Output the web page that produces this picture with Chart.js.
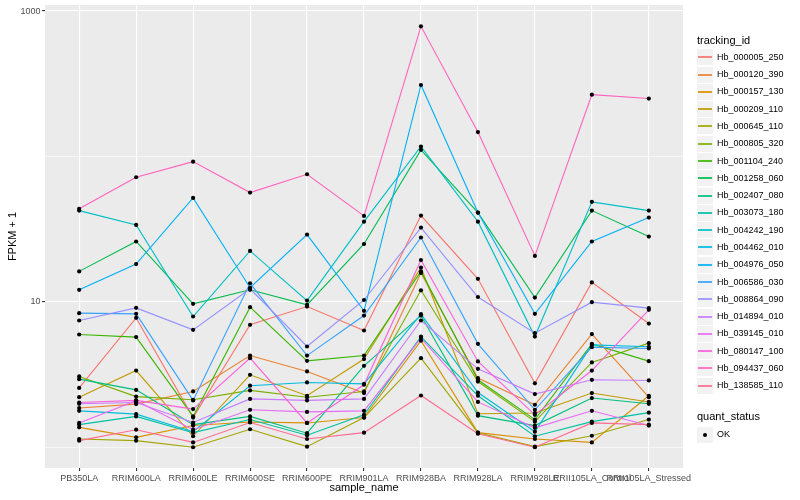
<!DOCTYPE html>
<html lang="en">
<head>
<meta charset="UTF-8">
<title>FPKM + 1 by sample</title>
<script src="https://cdn.jsdelivr.net/npm/chart.js"></script>
<style>
  body { margin: 0; background: #fff; font-family: 'Liberation Sans', Arial, sans-serif; }
  #wrap { position: relative; width: 800px; height: 500px; }
  #legend { position: absolute; left: 0; top: 0; width: 800px; height: 500px; pointer-events: none; }
  .lg { position: absolute; white-space: nowrap; color: #000; }
  .key { position: absolute; background: #F2F2F2; }
</style>
</head>
<body>
<div id="wrap">
  <canvas id="chart" width="800" height="500"></canvas>
  <div id="legend"></div>
</div>
<script>
// samples on the x axis
const categories = ['PB350LA', 'RRIM600LA', 'RRIM600LE', 'RRIM600SE', 'RRIM600PE', 'RRIM901LA',
  'RRIM928BA', 'RRIM928LA', 'RRIM928LE', 'RRII105LA_Control', 'RRII105LA_Stressed'];

const trackingIds = ['Hb_000005_250', 'Hb_000120_390', 'Hb_000157_130', 'Hb_000209_110', 'Hb_000645_110',
  'Hb_000805_320', 'Hb_001104_240', 'Hb_001258_060', 'Hb_002407_080', 'Hb_003073_180',
  'Hb_004242_190', 'Hb_004462_010', 'Hb_004976_050', 'Hb_006586_030', 'Hb_008864_090',
  'Hb_014894_010', 'Hb_039145_010', 'Hb_080147_100', 'Hb_094437_060', 'Hb_138585_110'];

// FPKM + 1, one value per sample
const hb000005_250 = [2.56, 7.76, 1.60, 6.95, 9.28, 6.35, 39.2, 14.4, 2.75, 13.6, 7.09];
const hb000120_390 = [1.86, 1.98, 2.42, 4.27, 3.32, 2.36, 15.8, 2.99, 1.96, 6.00, 2.21];
const hb000157_130 = [1.37, 1.17, 1.41, 1.49, 1.47, 1.60, 5.40, 1.26, 1.14, 1.08, 2.26];
const hb000209_110 = [2.21, 3.37, 1.19, 3.15, 2.26, 4.04, 17.2, 1.70, 1.72, 2.36, 2.05];
const hb000645_110 = [1.14, 1.11, 1.00, 1.33, 1.01, 1.60, 4.10, 1.26, 1.01, 1.20, 1.55];
const hb000805_320 = [3.07, 2.23, 2.12, 2.46, 2.21, 2.42, 12.0, 2.83, 1.50, 3.83, 5.20];
const hb001104_240 = [5.96, 5.72, 1.63, 9.19, 3.93, 4.27, 16.2, 2.91, 1.55, 5.14, 3.91];
const hb001258_060 = [16.2, 26.0, 9.69, 12.1, 9.54, 25.0, 111, 41.1, 10.7, 42.4, 28.1];
const hb002407_080 = [2.94, 2.48, 1.43, 1.63, 1.25, 3.63, 8.05, 1.65, 1.41, 2.18, 1.99];
const hb003073_180 = [1.43, 1.63, 1.26, 1.55, 1.21, 1.67, 5.77, 2.26, 1.19, 1.50, 1.73];
const hb004242_190 = [42.4, 33.8, 7.93, 22.4, 10.2, 35.6, 117, 35.6, 5.77, 48.7, 42.4];
const hb004462_010 = [1.78, 1.69, 1.28, 2.65, 2.79, 2.73, 8.23, 2.38, 1.28, 5.06, 4.91];
const hb004976_050 = [12.1, 18.2, 51.8, 12.5, 29.0, 8.67, 310, 41.1, 8.27, 26.0, 38.0];
const hb006586_030 = [8.36, 8.27, 2.10, 13.4, 4.27, 8.05, 27.7, 5.14, 1.81, 4.88, 4.78];
const hb008864_090 = [7.44, 9.09, 6.42, 12.3, 4.93, 10.3, 32.4, 10.8, 6.09, 9.95, 9.05];
const hb014894_010 = [1.99, 2.03, 1.48, 2.15, 2.10, 2.15, 7.44, 3.46, 2.32, 2.91, 2.88];
const hb039145_010 = [1.47, 2.09, 1.32, 1.81, 1.75, 1.78, 5.63, 2.05, 1.36, 1.78, 1.41];
const hb080147_100 = [2.03, 2.10, 1.83, 4.10, 1.47, 2.69, 19.4, 3.89, 1.67, 3.37, 8.81];
const hb094437_060 = [43.6, 71.9, 92.1, 56.4, 75.4, 39.0, 785, 147, 20.7, 266, 250];
const hb138585_110 = [1.11, 1.32, 1.08, 1.48, 1.14, 1.26, 2.27, 1.24, 1.00, 1.47, 1.43];

const seriesValues = [hb000005_250, hb000120_390, hb000157_130, hb000209_110, hb000645_110,
  hb000805_320, hb001104_240, hb001258_060, hb002407_080, hb003073_180,
  hb004242_190, hb004462_010, hb004976_050, hb006586_030, hb008864_090,
  hb014894_010, hb039145_010, hb080147_100, hb094437_060, hb138585_110];

const statusLevels = ['OK'];

// log axis: grid at every decade, labels on two of them
const yTickValues = [1, 10, 100, 1000];
const yTickLabels = [10, 1000];

// ggplot default hue palette for 20 levels
const lineColors = ['#F8766D', '#EA8331', '#D89000', '#C09B00', '#A3A500', '#7CAE00', '#39B600',
  '#00BB4E', '#00BF7D', '#00C1A3', '#00BFC4', '#00BAE0', '#00B0F6', '#35A2FF', '#9590FF',
  '#C77CFF', '#E76BF3', '#FA62DB', '#FF62BC', '#FF6C91'];

const FONT = "'Liberation Sans', Arial, sans-serif";
Chart.defaults.font.family = FONT;

const panelBackground = {
  id: 'panelBackground',
  beforeDraw(chart) {
    const { ctx, chartArea: a } = chart;
    ctx.save();
    ctx.fillStyle = '#EBEBEB';
    ctx.fillRect(a.left, a.top, a.right - a.left, a.bottom - a.top);
    ctx.restore();
  }
};

const datasets = seriesValues.map((vals, i) => ({
  label: trackingIds[i],
  data: vals.map((v, j) => ({ x: j, y: v })),
  borderColor: lineColors[i],
  borderWidth: 1.1,
  pointRadius: 0,
  fill: false,
  tension: 0,
  order: seriesValues.length - i
}));

// points on top of all lines, like geom_point after geom_line
datasets.push({
  type: 'scatter',
  label: statusLevels[0],
  data: seriesValues.flatMap(vals => vals.map((v, j) => ({ x: j, y: v }))),
  pointRadius: 2.1,
  backgroundColor: '#000',
  borderColor: '#000',
  borderWidth: 0,
  showLine: false,
  order: 0
});

new Chart(document.getElementById('chart'), {
  type: 'line',
  data: { datasets },
  plugins: [panelBackground],
  options: {
    responsive: false,
    animation: false,
    events: [],
    layout: { padding: { top: 5, right: 117, bottom: 0, left: 0 } },
    plugins: { legend: { display: false }, tooltip: { enabled: false } },
    scales: {
      x: {
        type: 'linear',
        bounds: 'data',
        min: -0.6,
        max: 10.6,
        afterBuildTicks: axis => { axis.ticks = categories.map((c, i) => ({ value: i })); },
        afterFit: axis => {
          axis.height = 32;
          axis.paddingLeft = 0; axis.paddingRight = 0;
        },
        grid: { color: '#FFFFFF', lineWidth: 1.1, tickColor: '#333333', tickLength: 3 },
        border: { display: false },
        ticks: {
          autoSkip: false, maxRotation: 0, minRotation: 0, padding: 2,
          color: '#4D4D4D', font: { size: 9 },
          callback: v => categories[v]
        },
        title: {
          display: true, text: 'sample_name', color: '#000',
          font: { size: 11 }, padding: { top: 0, bottom: 5 }
        }
      },
      y: {
        type: 'logarithmic',
        bounds: 'data',
        min: 0.72,
        max: 1100,
        afterBuildTicks: axis => { axis.ticks = yTickValues.map(v => ({ value: v })); },
        afterFit: axis => {
          axis.width = 45;
          axis.paddingTop = 0; axis.paddingBottom = 0;
        },
        grid: {
          color: '#FFFFFF',
          lineWidth: ctx => yTickLabels.includes(ctx.tick.value) ? 1.1 : 0.55,
          tickColor: ctx => yTickLabels.includes(ctx.tick.value) ? '#333333' : 'rgba(0,0,0,0)',
          tickLength: 3
        },
        border: { display: false },
        ticks: {
          padding: 1.5, color: '#4D4D4D', font: { size: 9 },
          callback: v => yTickLabels.includes(v) ? String(v) : ''
        },
        title: {
          display: true, text: 'FPKM + 1', color: '#000',
          font: { size: 11 }, padding: { top: 6, bottom: 0 }
        }
      }
    }
  }
});

// ggplot-style legends on the right
const legendEl = document.getElementById('legend');
const KEY = 17.28;

function addText(text, left, centerY, size) {
  const d = document.createElement('div');
  d.className = 'lg';
  d.textContent = text;
  d.style.left = left + 'px';
  d.style.top = (centerY - size * 0.6) + 'px';
  d.style.fontSize = size + 'px';
  d.style.lineHeight = (size * 1.2) + 'px';
  legendEl.appendChild(d);
}

function addKey(centerY) {
  const k = document.createElement('div');
  k.className = 'key';
  k.style.left = '697px';
  k.style.top = Math.round(centerY - 8) + 'px';
  k.style.width = '16px';
  k.style.height = '16px';
  legendEl.appendChild(k);
  return k;
}

addText('tracking_id', 697, 40.5, 11);
trackingIds.forEach((id, i) => {
  const cy = 57.3 + i * KEY;
  const k = addKey(cy);
  const line = document.createElement('div');
  line.style.position = 'absolute';
  line.style.left = '1px';
  line.style.width = '14px';
  line.style.top = '7px';
  line.style.height = '2px';
  line.style.background = lineColors[i];
  line.style.opacity = '0.85';
  k.appendChild(line);
  addText(id, 717, cy, 9);
});

addText('quant_status', 697, 417, 11);
statusLevels.forEach((s, i) => {
  const cy = 434.5 + i * KEY;
  const k = addKey(cy);
  const dot = document.createElement('div');
  dot.style.position = 'absolute';
  dot.style.width = '4px';
  dot.style.height = '4px';
  dot.style.borderRadius = '50%';
  dot.style.background = '#000';
  dot.style.left = '6px';
  dot.style.top = '6px';
  k.appendChild(dot);
  addText(s, 717, cy, 9);
});
</script>
</body>
</html>
